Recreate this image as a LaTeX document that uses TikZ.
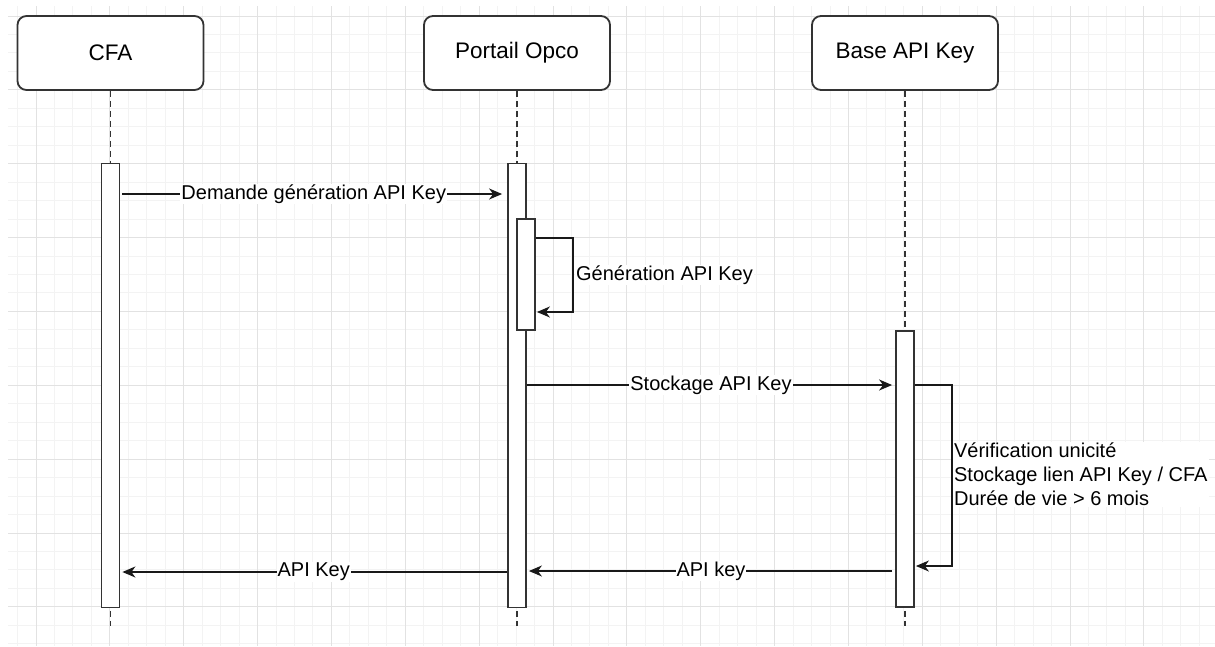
\documentclass[tikz,border=0pt]{standalone}
\usepackage{fontspec}
\setmainfont{Liberation Sans}
\usetikzlibrary{arrows.meta,calc}
\definecolor{gridminor}{HTML}{F3F3F3}
\definecolor{gridmajor}{HTML}{E2E2E2}
\definecolor{boxline}{HTML}{333333}
\tikzset{
  actor/.style={draw=boxline, line width=1.8pt, rounded corners=9pt, fill=white,
    minimum width=186pt, minimum height=74pt, font=\fontsize{22.5}{26}\selectfont, inner sep=0pt},
  lifeline/.style={draw=boxline, line width=1.9pt, dash pattern=on 6pt off 4pt},
  bar/.style={draw=boxline, line width=1.8pt, fill=white, minimum width=18pt, inner sep=0pt},
  msg/.style={draw=black!90, line width=1.5pt, -{Stealth[length=13pt,width=11pt,inset=4pt]}},
  msglabel/.style={fill=white, inner sep=1pt, font=\fontsize{20}{24}\selectfont},
  looplabel/.style={fill=white, inner sep=1pt, font=\fontsize{20}{24}\selectfont, align=left, anchor=west},
}
\begin{document}
\begin{tikzpicture}[x=1pt,y=-1pt]
\useasboundingbox (0,0) rectangle (1215,646);
\fill[white] (0,0) rectangle (1215,646);
% grid
\begin{scope}
\clip (8,6) rectangle (1215,646);
\foreach \j in {-1,...,64} \draw[gridminor, line width=1pt] ({36+18.465*\j},6) -- ({36+18.465*\j},646);
\foreach \j in {-1,...,35} \draw[gridminor, line width=1pt] (8,{16+18.465*\j}) -- (1215,{16+18.465*\j});
\foreach \k in {0,...,15} \draw[gridmajor, line width=1pt] ({36+73.86*\k},6) -- ({36+73.86*\k},646);
\foreach \k in {0,...,8} \draw[gridmajor, line width=1pt] (8,{16+73.86*\k}) -- (1215,{16+73.86*\k});
\end{scope}
% actors
\node[actor] (cfa) at (110.5,53) {CFA};
\node[actor] (opco) at (517,53) {Portail Opco};
\node[actor] (base) at (905,53) {Base API Key};
% lifeline ends
\coordinate (cfaend) at (110.5,626);
\coordinate (opcoend) at (517,626);
\coordinate (baseend) at (905,626);
\draw[lifeline] (cfa.south) -- (cfaend);
\draw[lifeline] (opco.south) -- (opcoend);
\draw[lifeline] (base.south) -- (baseend);
% activation bars
\node[bar, minimum height=444pt] (cfabar) at (110.5,385.5) {};
\node[bar, minimum height=444pt] (opcobar) at (517,385.5) {};
\node[bar, minimum height=111pt] (nestbar) at (526,274.5) {};
\node[bar, minimum height=276pt] (basebar) at (905,469) {};
% message rows
\coordinate (y1) at (0,194);
\coordinate (y2a) at (0,238);
\coordinate (y2b) at (0,312);
\coordinate (y3) at (0,385);
\coordinate (y4b) at (0,566);
\coordinate (y5) at (0,571);
\coordinate (y6) at (0,572);
% 1
\draw[msg, shorten <=2pt, shorten >=5pt] (cfabar.east |- y1) -- node[msglabel] {Demande génération API Key} (opcobar.west |- y1);
% 2 self
\draw[msg, shorten >=1pt] (nestbar.east |- y2a) -- ++(37,0) coordinate (loop1) |- (nestbar.east |- y2b);
\node[looplabel] (genlbl) at ($(loop1)!0.5!(loop1 |- y2b)+(2,0)$) {Génération API Key};
% 3
\draw[msg, shorten >=3pt] (opcobar.east |- y3) -- node[msglabel] {Stockage API Key} (basebar.west |- y3);
% 4 self
\draw[msg, shorten >=1pt] (basebar.east |- y3) -- ++(37,0) coordinate (loop2) |- (basebar.east |- y4b);
\node[looplabel] (verlbl) at ($(loop2)!0.5!(loop2 |- y4b)+(1,-1)$) {Vérification unicité\\Stockage lien API Key / CFA\\Durée de vie > 6 mois};
% 5
\draw[msg, shorten <=3pt, shorten >=2pt] (basebar.west |- y5) -- node[msglabel] {API key} (opcobar.east |- y5);
% 6
\draw[msg, shorten >=2pt] (opcobar.west |- y6) -- node[msglabel] {API Key} (cfabar.east |- y6);
\end{tikzpicture}
\end{document}
